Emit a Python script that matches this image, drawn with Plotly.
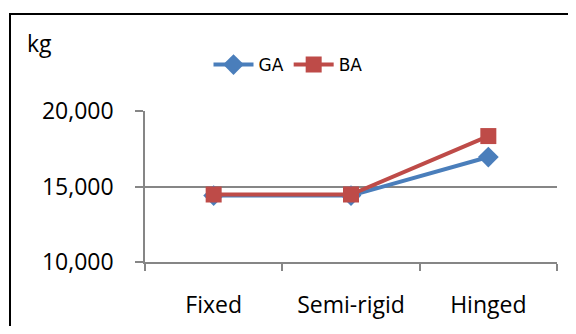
import plotly.graph_objects as go

categories = ["Fixed", "Semi-rigid", "Hinged"]
ga_values = [14400, 14400, 16950]
ba_values = [14470, 14470, 18340]
y_ticks = [10000, 15000, 20000]
y_tick_labels = ["10,000", "15,000", "20,000"]

OFF = 8  # page body margin
W, H = 576 - 2 * OFF, 334 - 2 * OFF
PLOT_L, PLOT_R, PLOT_T, PLOT_B = 145, 557, 111, 262  # page pixels
ML, MT = PLOT_L - OFF, PLOT_T - OFF
MR, MB = W - (PLOT_R - OFF), H - (PLOT_B - OFF)
pw = W - ML - MR
ph = H - MT - MB

def px_to_paper_x(px):
    return (px - OFF - ML) / pw

def px_to_paper_y(py):
    return (H - MB - (py - OFF)) / ph

fig = go.Figure()
fig.add_trace(go.Scatter(
    x=categories, y=ga_values, name="GA", mode="lines+markers",
    line=dict(color="#4A7EBB", width=4),
    marker=dict(symbol="diamond", size=16, color="#4A7EBB"),
))
fig.add_trace(go.Scatter(
    x=categories, y=ba_values, name="BA", mode="lines+markers",
    line=dict(color="#BE4B48", width=4),
    marker=dict(symbol="square", size=16, color="#BE4B48"),
))

grid = "#868686"
fig.update_layout(
    width=W, height=H,
    margin=dict(l=ML, r=MR, t=MT, b=MB, autoexpand=False),
    paper_bgcolor="white", plot_bgcolor="white",
    font=dict(family="Open Sans", size=20, color="black"),
    showlegend=True,
    legend=dict(orientation="h", x=px_to_paper_x(288), xanchor="center",
                y=px_to_paper_y(65), yanchor="middle",
                font=dict(family="DejaVu Sans", size=17, color="black"),
                itemwidth=40, tracegroupgap=0),
    xaxis=dict(type="category", range=[-0.5, 2.5], tickson="boundaries",
               showline=True, linecolor=grid, linewidth=1.5,
               ticks="outside", ticklen=7, tickcolor=grid, tickwidth=1.5,
               showgrid=False, zeroline=False, ticklabelstandoff=22,
               tickfont=dict(family="Open Sans", size=23)),
    yaxis=dict(range=[10000, 20000], tickvals=y_ticks, ticktext=y_tick_labels,
               showline=True, linecolor=grid, linewidth=1.5,
               ticks="outside", ticklen=8, tickcolor=grid, tickwidth=1.5,
               showgrid=True, gridcolor=grid, gridwidth=1.5, zeroline=False,
               ticklabelstandoff=17,
               tickfont=dict(family="Open Sans", size=23)),
    shapes=[
        dict(type="line", xref="paper", yref="paper",
             x0=px_to_paper_x(10), x1=px_to_paper_x(10),
             y0=px_to_paper_y(14), y1=px_to_paper_y(OFF + H),
             line=dict(color="black", width=2)),
        dict(type="line", xref="paper", yref="paper",
             x0=px_to_paper_x(9), x1=px_to_paper_x(OFF + W),
             y0=px_to_paper_y(14), y1=px_to_paper_y(14),
             line=dict(color="black", width=2)),
    ],
    annotations=[
        dict(text="kg", xref="paper", yref="paper",
             x=px_to_paper_x(25), y=px_to_paper_y(43),
             xanchor="left", yanchor="middle", showarrow=False,
             font=dict(family="Open Sans", size=23, color="black")),
    ],
)

fig.write_html("out.html")
